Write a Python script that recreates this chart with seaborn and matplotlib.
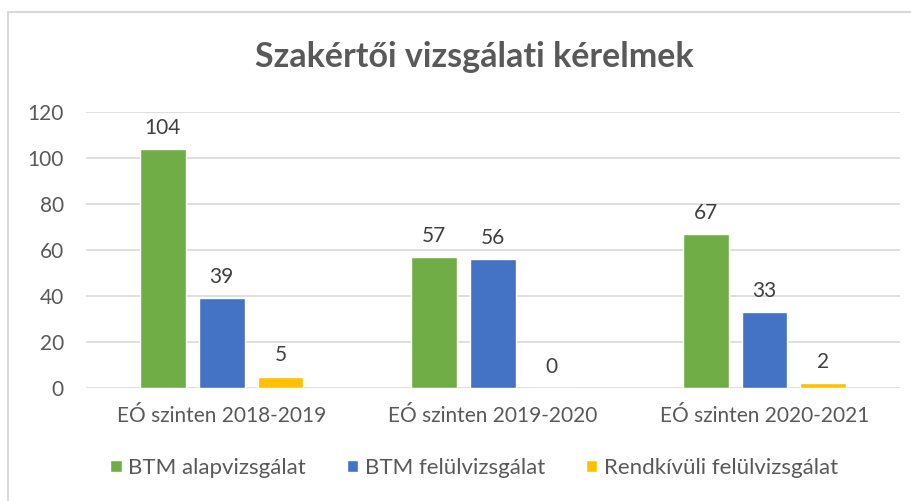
import pandas as pd
import matplotlib.pyplot as plt
import seaborn as sns
from matplotlib.patches import Rectangle

# Data
categories = ["EÓ szinten 2018-2019", "EÓ szinten 2019-2020", "EÓ szinten 2020-2021"]
series = ["BTM alapvizsgálat", "BTM felülvizsgálat", "Rendkívüli felülvizsgálat"]
alap = [104, 57, 67]
felul = [39, 56, 33]
rendkivuli = [5, 0, 2]
colors = ["#70AD47", "#4472C4", "#FFC000"]

df = pd.DataFrame({
    "kategoria": categories * 3,
    "sorozat": [series[0]] * 3 + [series[1]] * 3 + [series[2]] * 3,
    "ertek": alap + felul + rendkivuli,
})

sns.set_style("white")
plt.rcParams["font.family"] = ["Lato", "DejaVu Sans"]
text_col = "#595959"

fig = plt.figure(figsize=(9.12, 5.01), dpi=100)
ax = fig.add_axes([0.0943, 0.2255, 0.8927, 0.5509])

sns.barplot(data=df, x="kategoria", y="ertek", hue="sorozat", order=categories,
            hue_order=series, palette=colors, width=0.65, gap=0.22,
            saturation=1, ax=ax, legend=True, zorder=3)

for cont in ax.containers:
    ax.bar_label(cont, padding=8, fontsize=15, color="#404040")

ax.set_ylim(0, 120)
ax.set_yticks(range(0, 121, 20))
ax.yaxis.grid(True, color="#d9d9d9", linewidth=1.2, zorder=0)
ax.set_axisbelow(True)
for s in ax.spines.values():
    s.set_visible(False)
ax.tick_params(axis="both", length=0, labelsize=15, colors=text_col)
ax.tick_params(axis="x", pad=13)
ax.tick_params(axis="y", pad=16)
ax.set_xlabel("")
ax.set_ylabel("")

fig.suptitle("Szakértői vizsgálati kérelmek", x=0.52, y=0.918, fontsize=24.5,
             fontweight="bold", color=text_col)

ax.legend(loc="center", bbox_to_anchor=(0.52, 0.066), bbox_transform=fig.transFigure,
          ncol=3, frameon=False, fontsize=16, labelcolor=text_col,
          handlelength=0.5, handleheight=0.5, handletextpad=0.3, columnspacing=1.85)

# outer chart border
fig.patches.append(Rectangle((0.009, -0.05), 1.1, 1.026, transform=fig.transFigure,
                             fill=False, edgecolor="#d9d9d9", linewidth=1.5))

fig.savefig("out.png", dpi=100)
